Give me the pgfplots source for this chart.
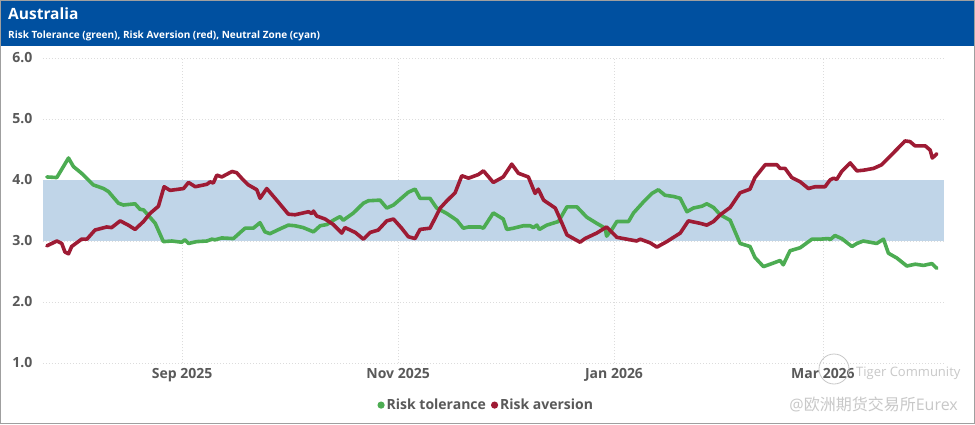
\documentclass[border=0pt]{standalone}
\usepackage{fontspec}
\setmainfont{Open Sans}
\newfontfamily\cjk{Noto Sans CJK SC}
\usepackage{pgfplots}
\usepackage{pgfplotstable}
\pgfplotsset{compat=1.18}

\definecolor{hdrblue}{RGB}{0,80,160}
\definecolor{bandblue}{RGB}{192,213,232}
\definecolor{tolgreen}{RGB}{76,172,82}
\definecolor{avred}{RGB}{158,27,52}
\definecolor{tickgray}{RGB}{89,89,89}
\definecolor{gridgray}{RGB}{220,220,220}
\definecolor{wmgray}{RGB}{200,200,200}

% day 0 = 24 Jul 2025
\pgfplotstableread{
day val
0.8 4.05
3.6 4.04
6.9 4.36
8.3 4.22
10.6 4.11
12.5 4.00
13.9 3.92
16.8 3.86
18.2 3.81
21.0 3.62
22.4 3.59
25.7 3.61
27.1 3.52
28.1 3.51
31.4 3.29
33.7 2.99
36.1 3.00
38.9 2.98
39.8 3.02
40.8 2.96
43.1 2.99
46.0 3.00
47.4 3.03
48.3 3.02
50.2 3.05
53.5 3.04
55.4 3.14
56.8 3.21
59.1 3.21
61.0 3.30
62.4 3.15
63.8 3.12
66.7 3.20
69.0 3.26
70.9 3.25
73.2 3.22
76.1 3.15
78.0 3.25
79.9 3.27
81.7 3.34
83.6 3.40
84.5 3.34
87.4 3.46
90.2 3.62
91.6 3.66
94.9 3.67
96.8 3.54
98.7 3.59
101.5 3.73
102.9 3.80
104.8 3.85
106.2 3.70
109.0 3.70
110.9 3.54
113.8 3.45
116.6 3.34
118.4 3.21
119.9 3.23
123.2 3.23
124.1 3.21
126.9 3.46
129.7 3.36
130.7 3.19
132.6 3.21
135.4 3.25
137.3 3.25
138.2 3.22
139.2 3.26
139.9 3.19
142.0 3.26
145.3 3.32
147.7 3.56
150.5 3.56
153.3 3.39
156.1 3.29
158.5 3.21
158.9 3.08
160.4 3.19
161.8 3.32
165.1 3.32
166.5 3.46
169.3 3.64
171.7 3.78
173.5 3.84
175.4 3.75
177.8 3.73
179.7 3.70
181.6 3.48
183.4 3.54
185.8 3.57
187.2 3.61
189.1 3.55
191.0 3.43
193.8 3.34
196.6 2.96
199.4 2.91
200.8 2.73
203.2 2.58
205.6 2.63
207.9 2.68
208.8 2.61
210.7 2.84
213.6 2.89
216.9 3.03
219.2 3.03
221.6 3.04
222.0 3.02
223.4 3.09
225.3 3.04
228.2 2.91
229.6 2.96
231.4 3.00
235.2 2.96
237.1 3.03
238.5 2.80
240.9 2.72
243.7 2.59
246.1 2.62
248.4 2.60
250.8 2.63
252.2 2.55
}\tolerance

\pgfplotstableread{
day val
0.8 2.92
3.6 3.00
5.0 2.96
5.9 2.82
6.9 2.79
7.8 2.91
10.6 3.03
12.1 3.03
14.4 3.18
17.7 3.23
19.1 3.22
21.5 3.33
23.8 3.26
25.7 3.19
28.1 3.32
29.9 3.45
32.3 3.57
33.9 3.89
35.6 3.83
39.4 3.86
40.8 3.96
42.7 3.89
46.0 3.93
46.9 3.97
47.8 3.95
48.8 4.08
50.2 4.05
53.1 4.14
54.4 4.12
55.8 4.03
57.7 3.92
60.1 3.84
61.0 3.70
62.9 3.86
65.7 3.67
69.0 3.44
70.9 3.43
73.2 3.46
74.7 3.48
75.6 3.45
76.1 3.49
77.0 3.41
79.4 3.36
81.7 3.27
84.1 3.13
85.0 3.22
87.9 3.14
90.2 3.03
92.1 3.14
94.4 3.18
96.8 3.33
98.7 3.36
101.0 3.21
102.9 3.07
104.8 3.04
106.2 3.19
109.0 3.21
111.9 3.54
113.8 3.66
116.1 3.79
118.0 4.07
119.9 4.03
122.7 4.09
124.1 4.15
126.9 3.96
129.7 4.05
132.1 4.26
134.0 4.11
136.8 4.05
138.7 3.78
139.6 3.85
141.1 3.67
144.4 3.54
146.3 3.29
147.7 3.10
151.4 2.98
152.8 3.04
156.1 3.13
158.9 3.23
161.8 3.06
164.6 3.03
167.4 3.00
168.4 3.03
171.2 2.97
173.1 2.90
175.9 2.99
179.7 3.13
182.0 3.33
185.3 3.29
187.2 3.26
189.1 3.32
191.0 3.43
193.8 3.55
196.6 3.79
199.4 3.85
200.8 4.04
203.7 4.25
207.0 4.25
207.9 4.19
209.3 4.19
211.2 4.04
213.6 3.97
215.9 3.86
217.8 3.89
220.6 3.89
222.0 4.00
223.0 4.03
223.9 4.01
225.3 4.14
227.7 4.28
229.6 4.15
231.4 4.16
234.3 4.19
236.6 4.25
239.0 4.39
243.2 4.64
244.6 4.63
246.0 4.56
248.9 4.56
250.3 4.49
250.9 4.36
252.2 4.43
}\aversion

\begin{document}
\begin{tikzpicture}[x=1pt,y=1pt]
\useasboundingbox (0,0) rectangle (975,424);
\fill[white] (0,0) rectangle (975,424);
\fill[hdrblue] (0,378) rectangle (975,424);
\draw[gray!75, line width=1pt] (0.5,0.5) rectangle (974.5,423.5);
\node[anchor=base west, text=white, font=\bfseries\fontsize{15.5}{15.5}\selectfont, inner sep=0pt] at (8,404) {Australia};
\node[anchor=base west, text=white, font=\bfseries\fontsize{10}{10}\selectfont, inner sep=0pt] at (8,385) {Risk Tolerance (green), Risk Aversion (red), Neutral Zone (cyan)};

\begin{axis}[
    at={(43pt,61pt)}, anchor=south west,
    scale only axis,
    width=901pt, height=305pt,
    xmin=-0.3, xmax=254.2,
    ymin=1, ymax=6,
    axis line style={draw=none},
    major tick length=0pt,
    xtick={39,100,161,220},
    xticklabels={Sep 2025, Nov 2025, Jan 2026, Mar 2026},
    ytick={1,2,3,4,5,6},
    yticklabel={\pgfmathprintnumber[fixed,fixed zerofill,precision=1,assume math mode=true]{\tick}},
    xticklabel style={font=\bfseries\fontsize{14}{14}\selectfont, text=tickgray, yshift=-2pt},
    yticklabel style={font=\bfseries\fontsize{14}{14}\selectfont, text=tickgray, xshift=-7pt},
    grid=major,
    major grid style={gridgray, line width=0.8pt, dash pattern=on 1pt off 2pt},
    legend style={at={(0.492,-0.138)}, anchor=center, draw=none, fill=none,
        legend columns=2, font=\bfseries\fontsize{14}{14}\selectfont, text=tickgray,
        /tikz/every even column/.style={column sep=3pt}},
    legend image code/.code={\fill[#1, draw=none] (4pt,0pt) circle (3.6pt);},
    legend cell align=left,
]
\addplot[draw=none, fill=bandblue, forget plot] coordinates {(-0.3,3) (254.2,3) (254.2,4) (-0.3,4)} -- cycle;
\addplot[tolgreen, line width=3.6pt, line join=round, line cap=round] table[x=day, y=val] {\tolerance};
\addplot[avred, line width=3.6pt, line join=round, line cap=round] table[x=day, y=val] {\aversion};
\legend{Risk tolerance, Risk aversion}
\end{axis}

\draw[wmgray, line width=0.8pt] (834,55) circle (15);
\node[anchor=base west, text=wmgray, font=\fontsize{13}{13}\selectfont, inner sep=0pt] at (856,48) {Tiger Community};
\node[anchor=base east, text=wmgray, font=\fontsize{16}{16}\selectfont, inner sep=0pt] at (958,14) {@{\cjk 欧洲期货交易所}Eurex};
\end{tikzpicture}
\end{document}
